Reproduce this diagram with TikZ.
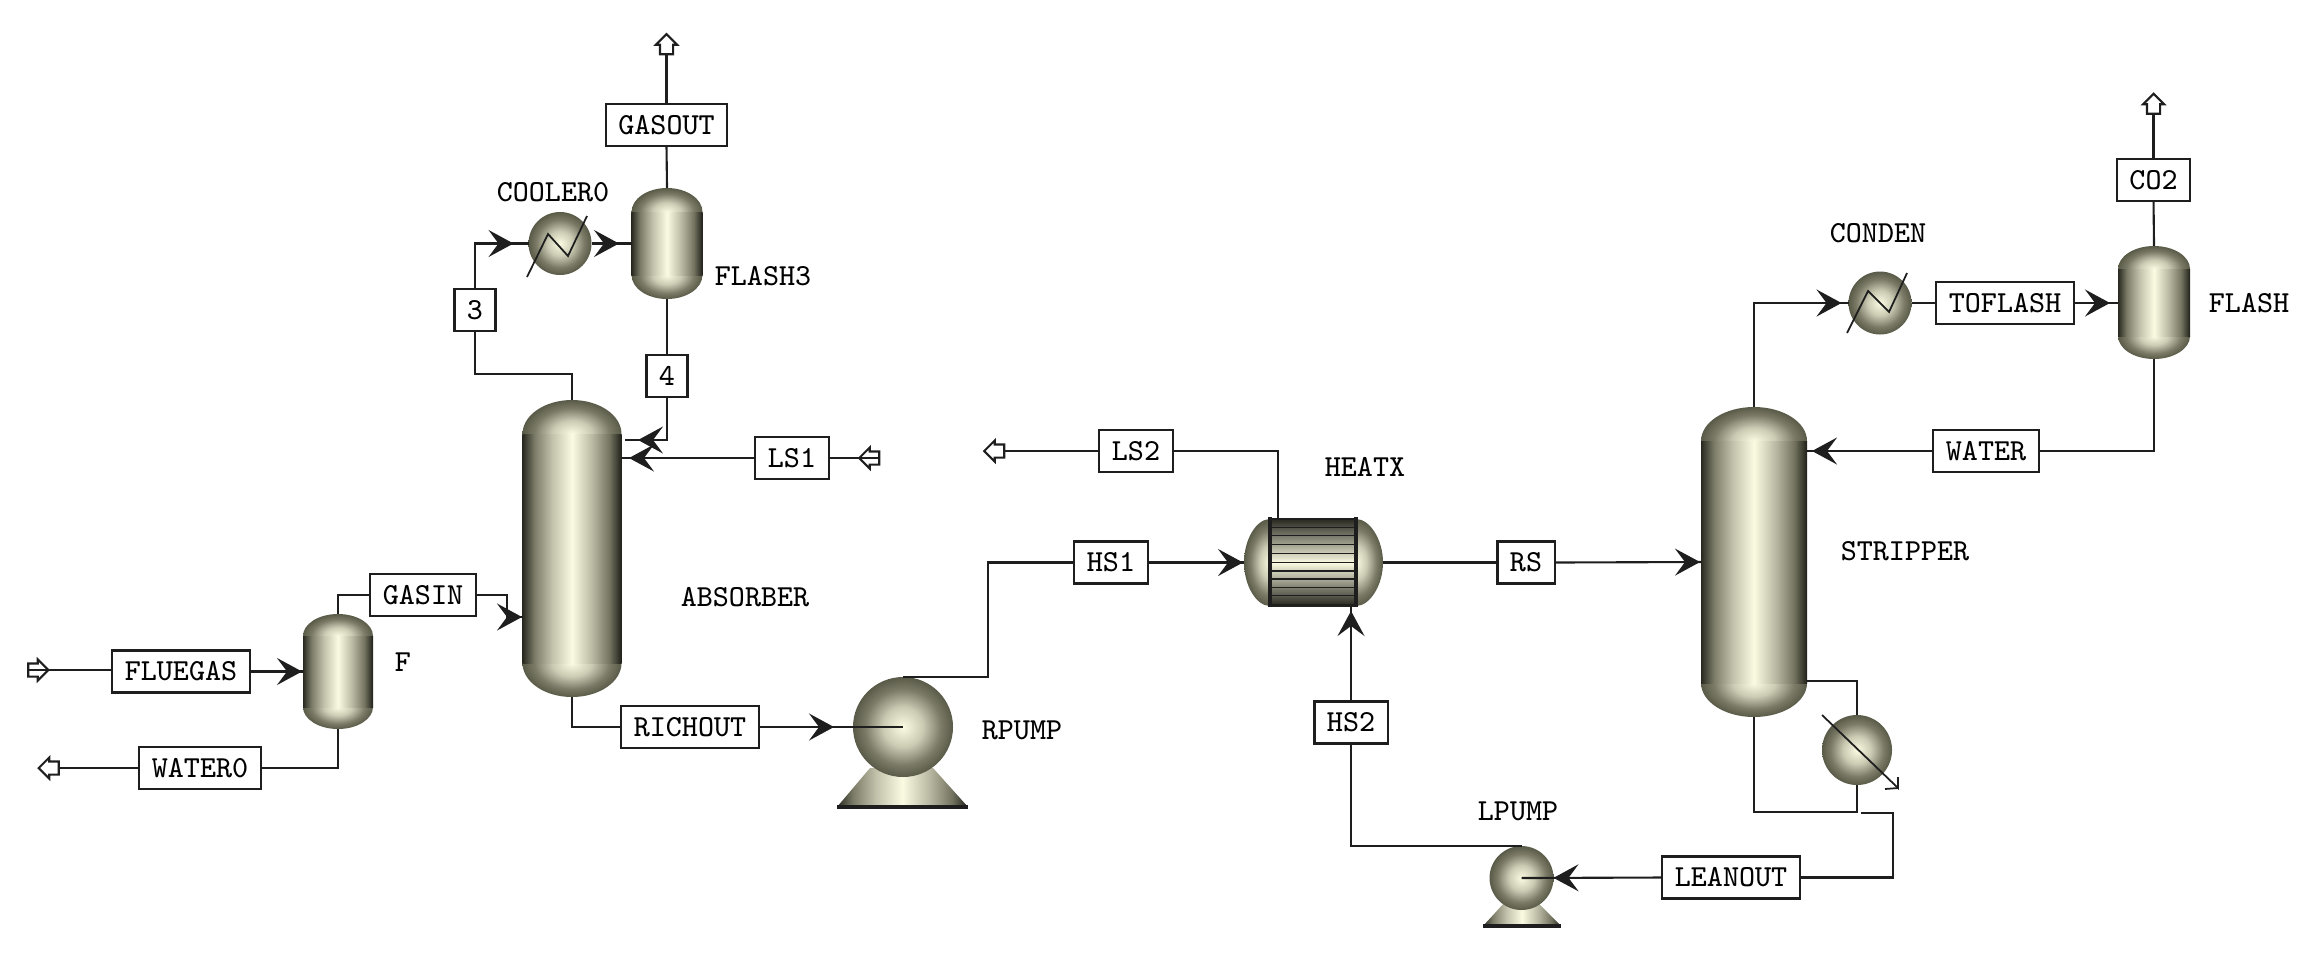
\documentclass[tikz,border=0pt]{standalone}
\usepackage{tikz}
\usetikzlibrary{arrows.meta,decorations.markings,shapes.arrows}

\definecolor{streamcol}{HTML}{1E1E1E}
\definecolor{shadelight}{HTML}{FBFBE2}
\definecolor{shadedark}{HTML}{5A5A48}
\pgfdeclarehorizontalshading{bodyshade}{100bp}{
  color(0bp)=(black!80!shadedark); color(25bp)=(black!55!shadedark);
  color(31bp)=(shadedark!80!shadelight); color(40bp)=(shadedark!35!shadelight);
  color(50bp)=(shadelight); color(60bp)=(shadedark!40!shadelight);
  color(69bp)=(shadedark!85!shadelight); color(75bp)=(black!65!shadedark);
  color(100bp)=(black!80!shadedark)}
\pgfdeclareradialshading{drumshade}{\pgfpoint{0bp}{0bp}}{
  color(0bp)=(shadelight); color(10bp)=(shadedark!30!shadelight);
  color(19bp)=(shadedark!80!shadelight); color(25bp)=(shadedark);
  color(50bp)=(shadedark)}
\tikzset{
  stream/.style={line width=.6pt,color=streamcol,postaction={decorate,decoration={markings,
      mark=at position -#1 with {\arrow{Stealth[length=2.5mm,width=2.7mm,inset=1mm]}}}}},
  plainstream/.style={line width=.6pt,color=streamcol},
  streambox/.style={draw=streamcol,line width=.6pt,fill=white,inner xsep=1.25mm,inner ysep=0pt,
      minimum height=4.2mm,outer sep=0pt,font=\fontsize{8.7}{10}\selectfont\ttfamily},
  unitlabel/.style={inner sep=0pt,font=\fontsize{8.7}{10}\selectfont\ttfamily},
  unitport/.style={inner sep=0pt,outer sep=0pt},
  drum/.style={circle,shading=drumshade,inner sep=0pt,outer sep=0pt},
  feedarrow/.style={single arrow,draw=streamcol,line width=.6pt,fill=white,inner sep=.55mm,outer sep=0pt,
      minimum height=2mm,single arrow head extend=.4mm},
  capshade/.style={shading=drumshade},
  thinline/.style={line width=.5pt,color=streamcol},
}

\begin{document}
\begin{tikzpicture}[x=.1mm,y=-.1mm,line width=.6pt]
\path[use as bounding box] (0,0) rectangle (2317,960);
% absorber side
\shade[capshade] (667,212) ellipse [x radius=35.5,y radius=24];
\shade[capshade] (667,275) ellipse [x radius=35.5,y radius=24];
\shade[shading=bodyshade] (631.5,212) rectangle (702.5,275);
\node[unitport,minimum width=7.1mm,minimum height=11.1mm] (flash3) at (667,243.5) {};
\shade[capshade] (338,636) ellipse [x radius=35,y radius=22];
\shade[capshade] (338,707) ellipse [x radius=35,y radius=22];
\shade[shading=bodyshade] (303,636) rectangle (373,707);
\node[unitport,minimum width=7mm,minimum height=11.5mm] (flue) at (338,671.5) {};
\shade[capshade] (572,434) ellipse [x radius=49.5,y radius=34];
\shade[capshade] (572,663) ellipse [x radius=49.5,y radius=34];
\shade[shading=bodyshade] (522.5,434) rectangle (621.5,663);
\node[unitport,minimum width=9.9mm,minimum height=29.7mm] (absorber) at (572,548.5) {};
\node[drum,minimum size=6.3mm] (cooler) at (560,243.5) {};
\draw[thinline] (527,277) -- (548,234) -- (568,256) -- (587,216);
% pumps
\shade[shading=bodyshade] (870,768) -- (933,768) -- (968,807) -- (837,807) -- cycle;
\draw[line width=.9pt,color=streamcol] (837,807) -- (968,807);
\node[drum,minimum size=10mm] (rpump) at (903,727) {};
\shade[shading=bodyshade] (1505,902) -- (1537,902) -- (1561,926) -- (1483,926) -- cycle;
\draw[line width=.9pt,color=streamcol] (1483,926) -- (1561,926);
\node[drum,minimum size=6.4mm] (lpump) at (1521.5,878) {};
% heat exchanger
\shade[capshade] (1270,519) .. controls (1256,519) and (1244,540) .. (1244,562.5) .. controls (1244,585) and (1256,606) .. (1270,606) .. controls (1284,606) and (1296,585) .. (1296,562.5) .. controls (1296,540) and (1284,519) .. (1270,519) -- cycle;
\shade[capshade] (1356,519) .. controls (1370,519) and (1383,540) .. (1383,562.5) .. controls (1383,585) and (1370,606) .. (1356,606) .. controls (1342,606) and (1329,585) .. (1329,562.5) .. controls (1329,540) and (1342,519) .. (1356,519) -- cycle;
\shade[top color=black!55!shadedark,bottom color=black!60!shadedark,middle color=shadelight] (1270,519) rectangle (1356,606);
\draw[thinline] (1270,519) -- (1356,519);
\draw[thinline] (1270,527.5) -- (1356,527.5);
\draw[thinline] (1270,535.5) -- (1356,535.5);
\draw[thinline] (1270,544.5) -- (1356,544.5);
\draw[thinline] (1270,553.5) -- (1356,553.5);
\draw[thinline] (1270,562.5) -- (1356,562.5);
\draw[thinline] (1270,571) -- (1356,571);
\draw[thinline] (1270,579) -- (1356,579);
\draw[thinline] (1270,587.5) -- (1356,587.5);
\draw[thinline] (1270,595.5) -- (1356,595.5);
\draw[thinline] (1270,605) -- (1356,605);
\draw[line width=.9pt,color=streamcol] (1270,517) -- (1270,607);
\draw[line width=.9pt,color=streamcol] (1356,517) -- (1356,607);
\node[unitport,minimum width=13.9mm,minimum height=8.7mm] (heatx) at (1313.5,562.5) {};
% stripper side
\shade[capshade] (1754,441) ellipse [x radius=53,y radius=34];
\shade[capshade] (1754,683) ellipse [x radius=53,y radius=34];
\shade[shading=bodyshade] (1701,441) rectangle (1807,683);
\node[unitport,minimum width=10.6mm,minimum height=31mm] (stripper) at (1754,562) {};
\shade[capshade] (2154,269) ellipse [x radius=36,y radius=23];
\shade[capshade] (2154,336) ellipse [x radius=36,y radius=23];
\shade[shading=bodyshade] (2118,269) rectangle (2190,336);
\node[unitport,minimum width=7.2mm,minimum height=11.3mm] (flash) at (2154,302.5) {};
\node[drum,minimum size=6.3mm] (conden) at (1880,303) {};
\draw[thinline] (1847,333) -- (1868,291) -- (1889,312) -- (1907,273);
\node[drum,minimum size=7mm] (reboiler) at (1857,750) {};
\draw[thinline] (1822,715) -- (1898,788) -- (1898,777);
\draw[thinline] (1898,788) -- (1885,789);
% stream boxes
\node[streambox] (gasout) at (666.5,125) {GASOUT};
\node[streambox] (box3) at (475,310) {3};
\node[streambox] (box4) at (667,376) {4};
\node[streambox] (ls1) at (792,458) {LS1};
\node[streambox] (gasin) at (423,595) {GASIN};
\node[streambox] (fluegas) at (181,671.5) {FLUEGAS};
\node[streambox] (water0) at (200,768) {WATER0};
\node[streambox] (richout) at (690,727) {RICHOUT};
\node[streambox] (hs1) at (1111,562.5) {HS1};
\node[streambox] (ls2) at (1136,451) {LS2};
\node[streambox] (rs) at (1526,562.5) {RS};
\node[streambox] (hs2) at (1351,722.5) {HS2};
\node[streambox] (leanout) at (1731,877.5) {LEANOUT};
\node[streambox] (water) at (1986,451) {WATER};
\node[streambox] (toflash) at (2005,303) {TOFLASH};
\node[streambox] (co2) at (2153.5,180) {CO2};
% feeds and products
\node[feedarrow,shape border rotate=90] (gasoutarrow) at (666.5,47.5) {};
\node[feedarrow,shape border rotate=180] (ls1arrow) at (872.5,458) {};
\node[feedarrow] (fluegasarrow) at (35,670) {};
\node[feedarrow,shape border rotate=180] (water0arrow) at (52,768) {};
\node[feedarrow,shape border rotate=180] (ls2arrow) at (997.5,451) {};
\node[feedarrow,shape border rotate=90] (co2arrow) at (2153.5,107) {};
% free stream ends
\coordinate (abstop) at (625,440);
\coordinate (absls) at (622,458);
\coordinate (absgas) at (523,617);
\coordinate (heatxtop) at (1278,519);
\coordinate (heatxbot) at (1351,604);
\coordinate (strippertap) at (1807,681);
\coordinate (stripperwater) at (1807,451);
\coordinate (reboilout) at (1861,813);
% streams
\draw[plainstream] (flash3.north) -- (gasout.south);
\draw[plainstream] (gasout.north) -- (gasoutarrow.tail);
\draw[plainstream] (absorber.north) -- ++(0,-26) -| (box3.south);
\draw[stream=1.5mm] (box3.north) |- (cooler.west);
\draw[stream=1.25mm] (cooler.east) -- (flash3.west);
\draw[plainstream] (flash3.south) -- (box4.north);
\draw[stream=1.3mm] (box4.south) |- (abstop);
\draw[plainstream] (ls1arrow.tail) -- (ls1.east);
\draw[stream=.7mm] (ls1.west) -- (absls);
\draw[plainstream] (fluegasarrow.tail) -- (fluegas.west |- fluegasarrow.tail);
\draw[stream=.1mm] (fluegas.east) -- (flue.west);
\draw[plainstream] (flue.north) |- (gasin.west);
\draw[stream=.1mm] (gasin.east) -- ++(31,0) |- (absgas);
\draw[plainstream] (flue.south) |- (water0.east);
\draw[plainstream] (water0.west) -- (water0arrow.tail);
\draw[plainstream] (absorber.south) |- (richout.west);
\draw[stream=6.9mm] (richout.east) -- (rpump.center);
\draw[plainstream] (rpump.north) -- ++(85,0) |- (hs1.west);
\draw[stream=.1mm] (hs1.east) -- (heatx.west);
\draw[plainstream] (heatxtop) |- (ls2.east);
\draw[plainstream] (ls2.west) -- (ls2arrow.tail);
\draw[plainstream] (heatx.east) -- (rs.west);
\draw[stream=.1mm] (rs.east) -- (stripper.west);
\draw[stream=.7mm] (hs2.north) -- (heatxbot);
\draw[plainstream] (lpump.north) -| (hs2.south);
\draw[stream=3.2mm] (leanout.west) -- (lpump.center);
\draw[plainstream] (reboilout) -- ++(32,0) |- (leanout.east);
\draw[plainstream] (strippertap) -| (reboiler.north);
\draw[plainstream] (reboiler.south) -- ++(0,27) -| (stripper.south);
\draw[stream=.7mm] (stripper.north) |- (conden.west);
\draw[plainstream] (conden.east) -- (toflash.west);
\draw[stream=.8mm] (toflash.east) -- (flash.west |- toflash.east);
\draw[plainstream] (flash.north) -- (co2.south);
\draw[plainstream] (co2.north) -- (co2arrow.tail);
\draw[plainstream] (flash.south) |- (water.east);
\draw[stream=.5mm] (water.west) -- (stripperwater);
% unit labels
\node[unitlabel] (cooler0label) at (553,192) {COOLER0};
\node[unitlabel] (flash3label) at (763,276) {FLASH3};
\node[unitlabel] (absorberlabel) at (745,597) {ABSORBER};
\node[unitlabel] (fluelabel) at (403,662) {F};
\node[unitlabel] (rpumplabel) at (1022,730) {RPUMP};
\node[unitlabel] (heatxlabel) at (1365,467) {HEATX};
\node[unitlabel] (stripperlabel) at (1905,551) {STRIPPER};
\node[unitlabel] (lpumplabel) at (1518,811) {LPUMP};
\node[unitlabel] (condenlabel) at (1878,233) {CONDEN};
\node[unitlabel] (flashlabel) at (2249,303) {FLASH};
\end{tikzpicture}
\end{document}
